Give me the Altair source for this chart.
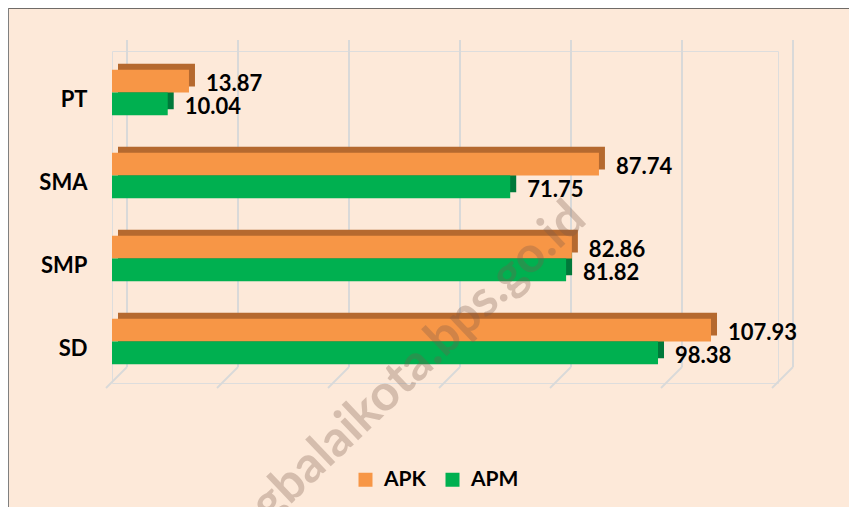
import altair as alt
import pandas as pd

categories = ["PT", "SMA", "SMP", "SD"]
apk = [13.87, 87.74, 82.86, 107.93]
apm = [10.04, 71.75, 81.82, 98.38]
series = ["APK", "APM"]
tick_values = [0, 20, 40, 60, 80, 100, 120]
watermark_text = ["tanjungbalaikota.bps.go.id"]

rows = []
for c, a, m in zip(categories, apk, apm):
    rows.append({"cat": c, "series": "APK", "value": a, "label": f"{a:.2f}"})
    rows.append({"cat": c, "series": "APM", "value": m, "label": f"{m:.2f}"})
df = pd.DataFrame(rows)
ticks_df = pd.DataFrame({"t": tick_values})

FONT = "Lato"
x_scale = alt.Scale(domain=[0, 120], nice=False, zero=True)
x_enc = alt.X("value:Q", scale=x_scale,
              axis=alt.Axis(values=tick_values, grid=False, domain=False, ticks=False,
                            labelFontSize=21, labelColor="#595959", labelPadding=24,
                            labelOffset=-4, labelFont=FONT, title=None))
y_enc = alt.Y("cat:N", sort=categories,
              scale=alt.Scale(paddingInner=0.45, paddingOuter=0.225),
              axis=alt.Axis(domain=False, ticks=False, labelFontSize=22, labelFontWeight="bold",
                            labelColor="black", labelPadding=25, labelOffset=7,
                            labelFont=FONT, title=None))
yoff = alt.YOffset("series:N", sort=series)

grid_v = alt.Chart(ticks_df).mark_rule(color="#D9D9D9", strokeWidth=2, xOffset=15).encode(
    x=alt.X("t:Q", scale=x_scale, axis=None),
    y=alt.value(-11), y2=alt.value(316))
grid_d = alt.Chart(ticks_df).mark_rule(color="#D9D9D9", strokeWidth=2, xOffset=15, x2Offset=-6).encode(
    x=alt.X("t:Q", scale=x_scale, axis=None), x2="t:Q",
    y=alt.value(316), y2=alt.value(337))

base = alt.Chart(df)
extr = base.mark_bar(xOffset=6, x2Offset=6).encode(
    x=x_enc, y=y_enc,
    yOffset=alt.YOffset("series:N", sort=series, scale=alt.Scale(range=[-6, 39.65])),
    color=alt.condition(alt.datum.series == "APK", alt.value("#B5692F"), alt.value("#00793A")))
front = base.mark_bar().encode(
    x=x_enc, y=y_enc, yOffset=yoff,
    color=alt.Color("series:N", sort=series,
                    scale=alt.Scale(domain=series, range=["#F79646", "#00B050"]),
                    legend=alt.Legend(orient="none", legendX=243, legendY=418, direction="horizontal",
                                      symbolType="square", symbolSize=196, symbolStrokeWidth=0,
                                      labelFontSize=21, labelFontWeight="bold", labelFont=FONT,
                                      labelColor="black", title=None, columnPadding=16,
                                      labelOffset=8, padding=0)))
labels = base.mark_text(align="left", baseline="middle", dx=17, dy=3, fontSize=22,
                        fontWeight="bold", font=FONT, color="black").encode(
    x=x_enc, y=y_enc, yOffset=yoff, text="label:N")

wm = alt.Chart(pd.DataFrame({"w": watermark_text})).mark_text(
    angle=316.5, align="right", baseline="middle", fontSize=50, font=FONT,
    fontWeight="bold", color="#7A5A4A", opacity=0.3).encode(
    x=alt.value(466), y=alt.value(160), text="w:N")

one = pd.DataFrame({"a": [0]})
border_top = alt.Chart(one).mark_rule(color="#404040", strokeWidth=1.5).encode(
    x=alt.value(-104), x2=alt.value(737), y=alt.value(-43))
border_left = alt.Chart(one).mark_rule(color="#808080", strokeWidth=1).encode(
    x=alt.value(-103.5), y=alt.value(-43), y2=alt.value(456))

chart = alt.layer(grid_v, grid_d, extr, front, labels, wm, border_top, border_left).resolve_scale(
    yOffset="independent"
).properties(
    width=666, height=332,
    padding={"left": 104, "top": 43, "right": 71, "bottom": 124},
    autosize=alt.AutoSizeParams(type="none"),
    background="#FDE9D9",
).configure_view(stroke=None).configure(font=FONT)

chart.save("out.html", embed_options={"renderer": "svg", "actions": False})
